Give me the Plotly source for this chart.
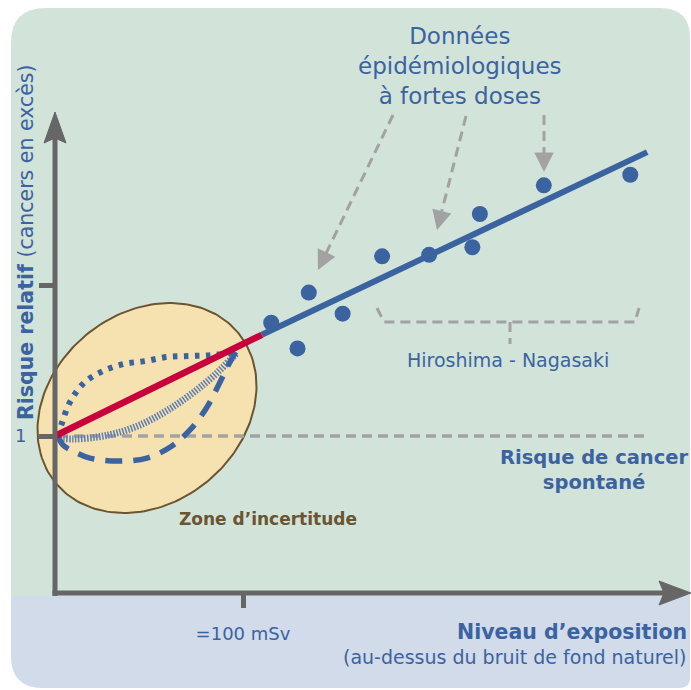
import numpy as np
import plotly.graph_objects as go

W, H = 691, 690

# ---------------- data (dose units, relative risk) ----------------
dose_points = [115, 129, 135, 153, 174, 199, 222, 226, 260, 306]
risk_points = [1.75, 1.58, 1.95, 1.81, 2.19, 2.20, 2.25, 2.47, 2.66, 2.73]

lnt_low_x = [0, 110]
lnt_low_y = [1.0, 1.67]
lnt_high_x = [110, 315]
lnt_high_y = [1.67, 2.88]

supra_x = [1.6, 3.7, 8.0, 15.4, 25.5, 36.7, 48.4, 59.6, 71.3, 83.0, 94.1, 96.8]
supra_y = [1.0, 1.086, 1.225, 1.351, 1.430, 1.477, 1.497, 1.523, 1.530, 1.536, 1.556, 1.583]

horm_x = [1.6, 4.3, 10.6, 18.6, 33.0, 48.9, 62.2, 71.8, 80.9, 87.8, 93.1, 97.3]
horm_y = [1.0, 0.940, 0.894, 0.854, 0.834, 0.854, 0.934, 1.040, 1.192, 1.358, 1.490, 1.583]

sub_x = [1.1, 9.6, 22.3, 33.0, 45.2, 57.4, 68.1, 78.7, 87.8, 94.1, 96.8]
sub_y = [0.987, 0.980, 0.993, 1.020, 1.073, 1.152, 1.238, 1.338, 1.437, 1.517, 1.550]

baseline_x = [1.6, 315]
baseline_y = [1.0, 1.0]

x_tick_vals = [100]
x_tick_text = ["=100 mSv"]
y_tick_vals = [1, 2]
y_tick_text = ["1", ""]

# ---------------- geometry helpers ----------------
X0PX, Y1PX, XS, YS = 55, 436, 1.88, 151.0
XR = [-X0PX / XS, (W - X0PX) / XS]
YR = [1 - (H - Y1PX) / YS, 1 + Y1PX / YS]


def dx(px):
    return (px - X0PX) / XS


def dy(py):
    return 1 + (Y1PX - py) / YS


def pp(px, py):
    return px / W, 1 - py / H


def _path(cmds, conv):
    out = []
    for c, pts in cmds:
        if c == "L":
            for p in pts:
                out.append("L %.5f,%.5f" % conv(*p))
        elif c == "Z":
            out.append("Z")
        else:
            out.append(c + " " + " ".join("%.5f,%.5f" % conv(*p) for p in pts))
    return " ".join(out)


def ppath(cmds):
    return _path(cmds, pp)


def dpath(cmds):
    return _path(cmds, lambda a, b: (dx(a), dy(b)))


BLUE = "#3b63a0"
RED = "#c8003c"
GREY = "#666666"
DGREY = "#a2a2a2"
BROWN = "#6b5530"
FONT = "DejaVu Sans"

fig = go.Figure()

# ellipse (zone of uncertainty)
cx, cy, a, b, th = 147, 408, 118.2, 95.1, np.radians(39.3)
t = np.linspace(0, 2 * np.pi, 200)
ex = cx + a * np.cos(t) * np.cos(th) - b * np.sin(t) * np.sin(th)
ey = cy - (a * np.cos(t) * np.sin(th) + b * np.sin(t) * np.cos(th))
fig.add_trace(go.Scatter(x=dx(ex), y=dy(ey), mode="lines", fill="toself",
                         fillcolor="#f6e1b1", line=dict(color=BROWN, width=2),
                         hoverinfo="skip", showlegend=False))

# baseline risk
fig.add_trace(go.Scatter(x=baseline_x, y=baseline_y, mode="lines",
                         line=dict(color=DGREY, width=3.5, dash="10px,6px"),
                         showlegend=False))

# sub-linear (hatched)
fig.add_trace(go.Scatter(x=sub_x, y=sub_y, mode="lines", line_shape="spline",
                         line=dict(color="#5b7db2", width=7, dash="1.5px,1.5px"),
                         showlegend=False))
# hormesis (dashed)
fig.add_trace(go.Scatter(x=horm_x, y=horm_y, mode="lines", line_shape="spline",
                         line=dict(color=BLUE, width=5.5, dash="17px,11px"),
                         showlegend=False))
# supra-linear (dotted)
fig.add_trace(go.Scatter(x=supra_x, y=supra_y, mode="lines", line_shape="spline",
                         line=dict(color=BLUE, width=6, dash="4.5px,6.5px"),
                         showlegend=False))
# linear fits
fig.add_trace(go.Scatter(x=lnt_high_x, y=lnt_high_y, mode="lines",
                         line=dict(color=BLUE, width=6), showlegend=False))
fig.add_trace(go.Scatter(x=lnt_low_x, y=lnt_low_y, mode="lines",
                         line=dict(color=RED, width=6.5), showlegend=False))
# epidemiological points
fig.add_trace(go.Scatter(x=dose_points, y=risk_points, mode="markers",
                         marker=dict(color=BLUE, size=16), showlegend=False))

shapes = []
# background card
shapes.append(dict(type="path", xref="paper", yref="paper", layer="below",
                   path=ppath([("M", [(11, 595)]), ("L", [(690, 595), (690, 678)]),
                               ("Q", [(690, 688), (680, 688)]), ("L", [(43, 688)]),
                               ("Q", [(11, 688), (11, 656)]), ("Z", [])]),
                   fillcolor="#d1dbea", line=dict(width=0)))
shapes.append(dict(type="path", xref="paper", yref="paper", layer="below",
                   path=ppath([("M", [(11, 596)]), ("L", [(11, 43)]),
                               ("Q", [(11, 8), (46, 8)]), ("L", [(660, 8)]),
                               ("Q", [(690, 8), (690, 38)]), ("L", [(690, 596)]), ("Z", [])]),
                   fillcolor="#d2e3da", line=dict(width=0)))
# axes lines
shapes.append(dict(type="line", xref="x", yref="y", layer="above",
                   x0=0, x1=0, y0=dy(596), y1=dy(136), line=dict(color=GREY, width=5)))
shapes.append(dict(type="line", xref="x", yref="y", layer="above",
                   x0=dx(52.5), x1=dx(668), y0=dy(593), y1=dy(593), line=dict(color=GREY, width=5)))
shapes.append(dict(type="path", xref="x", yref="y", layer="above",
                   path=dpath([("M", [(55, 112)]), ("L", [(66, 143), (55, 138), (44, 143)]), ("Z", [])]),
                   fillcolor=GREY, line=dict(color=GREY, width=1)))
shapes.append(dict(type="path", xref="x", yref="y", layer="above",
                   path=dpath([("M", [(691, 593)]), ("L", [(659, 581), (664, 593), (659, 605)]), ("Z", [])]),
                   fillcolor=GREY, line=dict(color=GREY, width=1)))

# Hiroshima bracket
shapes.append(dict(type="path", xref="paper", yref="paper",
                   path=ppath([("M", [(377, 308)]), ("L", [(384, 322), (635, 322), (639, 308)])]),
                   line=dict(color=DGREY, width=3, dash="10px,6px")))
shapes.append(dict(type="line", xref="paper", yref="paper",
                   x0=510 / W, x1=510 / W, y0=1 - 322 / H, y1=1 - 344 / H,
                   line=dict(color=DGREY, width=3, dash="10px,6px")))

annotations = []
# dashed pointer arrows
for (sx, sy), (tx, ty) in [((393, 115), (318, 270)), ((466, 116), (437, 230)), ((544, 115), (544, 172))]:
    vx, vy = tx - sx, ty - sy
    n = np.hypot(vx, vy)
    ux, uy = vx / n, vy / n
    lx, ly = tx - 11 * ux, ty - 11 * uy
    shapes.append(dict(type="line", xref="paper", yref="paper",
                       x0=sx / W, y0=1 - sy / H, x1=lx / W, y1=1 - ly / H,
                       line=dict(color=DGREY, width=3, dash="10px,6px")))
    annotations.append(dict(xref="paper", yref="paper", x=tx / W, y=1 - ty / H,
                            ax=-ux * 8, ay=-uy * 8, text="", showarrow=True,
                            arrowhead=2, arrowsize=1.3, arrowwidth=3, arrowcolor=DGREY))


def txt(text, px, py, size, color=BLUE, xanchor="center", angle=0):
    x, y = pp(px, py)
    annotations.append(dict(xref="paper", yref="paper", x=x, y=y, text=text,
                            showarrow=False, xanchor=xanchor, yanchor="middle",
                            textangle=angle, font=dict(family=FONT, size=size, color=color)))


txt("Données<br>épidémiologiques<br>à fortes doses", 460, 66, 23)
txt("Hiroshima - Nagasaki", 508, 360, 19)
txt("<b>Risque de cancer<br>spontané</b>", 594, 470, 19.5)
txt("<b>Zone d’incertitude</b>", 268, 519, 17, color=BROWN)
txt("<b>Niveau d’exposition</b>", 689, 632, 20.5, xanchor="right")
txt("(au-dessus du bruit de fond naturel)", 689, 657, 19, xanchor="right")
txt("<b>Risque relatif</b> (cancers en excès)", 26, 242, 20.5, angle=-90)

fig.update_layout(
    width=W, height=H, margin=dict(l=0, r=0, t=0, b=0),
    paper_bgcolor="white", plot_bgcolor="rgba(0,0,0,0)",
    shapes=shapes, annotations=annotations, showlegend=False,
    xaxis=dict(range=XR, domain=[0, 1], showgrid=False, zeroline=False, showline=False,
               anchor="free", position=(H - 593) / H, ticks="outside", ticklen=14,
               tickwidth=5, tickcolor=GREY, tickvals=x_tick_vals, ticktext=x_tick_text,
               tickfont=dict(family=FONT, size=18, color=BLUE), ticklabelstandoff=10,
               fixedrange=True),
    yaxis=dict(range=YR, domain=[0, 1], showgrid=False, zeroline=False, showline=False,
               anchor="free", position=X0PX / W, ticks="outside", ticklen=16,
               tickwidth=5, tickcolor=GREY, tickvals=y_tick_vals, ticktext=y_tick_text,
               tickfont=dict(family=FONT, size=18, color=BLUE), ticklabelstandoff=9,
               fixedrange=True),
)

fig.write_html("out.html", post_script="document.body.style.margin='0px';",
               config={"displayModeBar": False})
